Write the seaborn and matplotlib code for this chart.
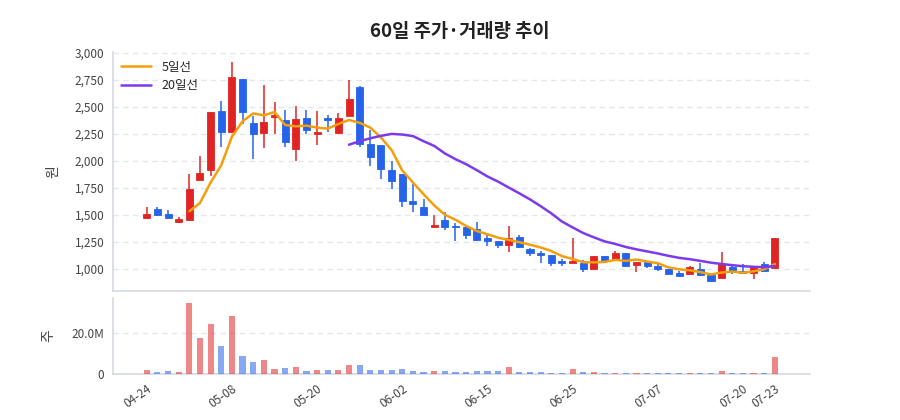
import numpy as np
import pandas as pd
import matplotlib
matplotlib.use("Agg")
import matplotlib.pyplot as plt
import seaborn as sns

# 일봉 데이터 (60거래일, 그림에서 읽은 값)
opens = [1470, 1558, 1505, 1432, 1450, 1820, 1915, 2460, 2270, 2760,
         2350, 2260, 2410, 2375, 2110, 2400, 2245, 2395, 2260, 2415,
         2680, 2155, 2150, 1915, 1880, 1630, 1570, 1385, 1455, 1400,
         1385, 1375, 1290, 1262, 1222, 1300, 1190, 1150, 1130, 1070,
         1058, 1058, 1000, 1120, 1090, 1145, 1035, 1065, 1028, 1003,
         965, 951, 1005, 947, 914, 1020, 980, 960, 1043, 1012]
highs = [1570, 1570, 1545, 1480, 1880, 2050, 2450, 2555, 2920, 2760,
         2420, 2700, 2545, 2470, 2510, 2470, 2460, 2425, 2440, 2750,
         2690, 2285, 2150, 2000, 1880, 1785, 1645, 1500, 1530, 1430,
         1388, 1435, 1320, 1262, 1400, 1312, 1192, 1165, 1130, 1090,
         1285, 1085, 1120, 1125, 1165, 1150, 1062, 1066, 1045, 1005,
         982, 1025, 1058, 950, 1160, 1040, 1046, 1016, 1062, 1285]
lows = [1460, 1493, 1468, 1430, 1450, 1820, 1860, 2125, 2270, 2340,
        2020, 2120, 2250, 2125, 2000, 2245, 2150, 2265, 2245, 2415,
        2130, 1955, 1830, 1740, 1575, 1530, 1500, 1383, 1360, 1262,
        1275, 1255, 1215, 1195, 1158, 1195, 1123, 1053, 1030, 1028,
        1058, 970, 1000, 1075, 1090, 1028, 975, 1006, 980, 954,
        938, 950, 940, 888, 914, 955, 960, 910, 984, 1012]
closes = [1505, 1500, 1470, 1460, 1740, 1885, 2450, 2270, 2780, 2450,
          2250, 2360, 2425, 2180, 2385, 2285, 2265, 2380, 2395, 2570,
          2155, 2040, 1925, 1815, 1625, 1600, 1500, 1405, 1385, 1390,
          1315, 1265, 1255, 1225, 1290, 1207, 1150, 1127, 1060, 1055,
          1075, 1000, 1120, 1078, 1150, 1030, 1062, 1028, 1003, 955,
          940, 1020, 942, 892, 1046, 985, 960, 1015, 985, 1285]
# 거래량 (백만 주)
volumes_m = [2.0, 1.1, 1.5, 0.8, 34.8, 17.4, 24.4, 13.8, 28.0, 8.8,
             6.0, 6.8, 2.4, 2.9, 3.4, 1.6, 2.0, 2.0, 2.0, 4.4,
             4.6, 2.1, 2.0, 2.0, 2.6, 1.3, 1.1, 1.6, 1.3, 1.0,
             0.8, 1.6, 1.6, 1.6, 3.4, 1.1, 1.0, 0.8, 0.65, 0.65,
             2.3, 1.1, 0.8, 0.3, 0.65, 0.65, 0.65, 0.3, 0.3, 0.3,
             0.3, 0.3, 0.65, 0.65, 1.6, 0.3, 0.3, 0.65, 0.65, 8.3]

tick_pos = [0, 8, 16, 24, 32, 40, 48, 56, 59]
tick_labels = ["04-24", "05-08", "05-20", "06-02", "06-15",
               "06-25", "07-07", "07-20", "07-23"]

RED = "#e02424"
BLUE = "#2563eb"
ORANGE = "#f59e0b"
PURPLE = "#7c3aed"
GRID = "#e3e6eb"
SPINE = "#d5d9e0"
TXT = "#444444"

df = pd.DataFrame({"open": opens, "high": highs, "low": lows,
                   "close": closes, "vol": volumes_m})
df["idx"] = np.arange(len(df))
df["dir"] = np.where(df["close"] >= df["open"], "up", "down")
df["ma5"] = df["close"].rolling(5).mean()
df["ma20"] = df["close"].rolling(20).mean()

sns.set_theme(style="white")
plt.rcParams["font.family"] = ["Noto Sans CJK KR", "DejaVu Sans"]

fig = plt.figure(figsize=(9, 4.2), dpi=100)
ax = fig.add_axes([0.1252, 0.3079, 0.7748, 0.5683])
ax2 = fig.add_axes([0.1252, 0.1095, 0.7748, 0.181])

# 캔들
colors = np.where(df["dir"] == "up", RED, BLUE)
ax.vlines(df["idx"], df["low"], df["high"], colors=colors, linewidth=1.1, zorder=2)
body_lo = df[["open", "close"]].min(axis=1)
body_h = (df["close"] - df["open"]).abs().clip(lower=10)
ax.bar(df["idx"], body_h, bottom=body_lo, width=0.66, color=colors,
       edgecolor=colors, linewidth=0.6, zorder=3)

# 이동평균선
sns.lineplot(data=df.dropna(subset=["ma5"]), x="idx", y="ma5", ax=ax,
             color=ORANGE, linewidth=1.8, label="5일선", zorder=4)
sns.lineplot(data=df.dropna(subset=["ma20"]), x="idx", y="ma20", ax=ax,
             color=PURPLE, linewidth=1.8, label="20일선", zorder=4)

ax.set_xlim(-3.2, 62.3)
ax.set_ylim(800, 3008)
ax.set_yticks(np.arange(1000, 3001, 250))
ax.set_yticklabels([f"{v:,}" for v in range(1000, 3001, 250)])
ax.set_xticks(tick_pos)
ax.set_xticklabels([])
ax.grid(axis="y", color=GRID, linestyle=(0, (4, 3)), linewidth=1)
ax.set_xlabel("")
ax.set_ylabel("원", fontsize=10, color=TXT)
ax.yaxis.set_label_coords(-0.0756, 0.5)
for s in ["top", "right"]:
    ax.spines[s].set_visible(False)
for s in ["left", "bottom"]:
    ax.spines[s].set_color(SPINE)
    ax.spines[s].set_linewidth(1.2)
ax.tick_params(axis="both", direction="out", length=4, width=1,
               color="#555555", labelsize=8.5, labelcolor=TXT, pad=2)
ax.legend(loc="upper left", frameon=False, fontsize=9, handlelength=2.4,
          borderaxespad=0.3, labelspacing=0.45, bbox_to_anchor=(0.0, 1.0))

# 거래량
sns.barplot(data=df, x="idx", y="vol", hue="dir", ax=ax2, native_scale=True,
            palette={"up": RED, "down": BLUE}, alpha=0.55, saturation=1,
            width=0.58, legend=False, linewidth=0, zorder=3)
ax2.set_xlim(-3.2, 62.3)
ax2.set_ylim(0, 37)
ax2.set_yticks([0, 20])
ax2.set_yticklabels(["0", "20.0M"])
ax2.set_xticks(tick_pos)
ax2.set_xticklabels(tick_labels, rotation=35, ha="right", rotation_mode="anchor")
ax2.grid(axis="y", color=GRID, linestyle=(0, (4, 3)), linewidth=1)
ax2.set_xlabel("")
ax2.set_ylabel("주", fontsize=10, color=TXT)
ax2.yaxis.set_label_coords(-0.0827, 0.5)
for s in ["top", "right"]:
    ax2.spines[s].set_visible(False)
for s in ["left", "bottom"]:
    ax2.spines[s].set_color(SPINE)
    ax2.spines[s].set_linewidth(1.2)
ax2.tick_params(axis="both", direction="out", length=4, width=1,
                color="#555555", labelsize=8.5, labelcolor=TXT, pad=2)

fig.text(0.511, 0.924, "60일 주가·거래량 추이", ha="center", va="center",
         fontsize=13.5, fontweight="bold", color="#222222")

fig.savefig("out.png", dpi=100)
